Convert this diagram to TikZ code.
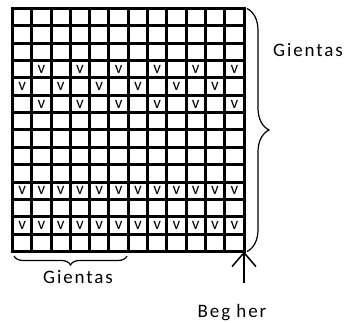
\documentclass[tikz,border=0pt]{standalone}
\usepackage{fontspec}
\setmainfont{Carlito}
\newfontfamily\spacedfont[LetterSpace=10]{Carlito}
\usetikzlibrary{arrows.meta,decorations.pathreplacing}
\begin{document}
\begin{tikzpicture}[x=1pt,y=1pt,
  gridline/.style={line width=3pt},
  stitch/.style={inner sep=0pt,font=\fontsize{17}{17}\selectfont},
  caption/.style={inner sep=1pt,font=\spacedfont\fontsize{19}{19}\selectfont},
  bracket/.style={decorate,line width=1.2pt}]
\useasboundingbox (0,0) rectangle (350,323);
% grid, 12 columns x 14 rows
\foreach \i in {1,...,11}
  \draw[gridline] ({12.5+\i*19.29},71.5) -- ({12.5+\i*19.29},314.5);
\foreach \j in {1,...,13}
  \draw[gridline] (12.5,{71.5+\j*17.357}) -- (244,{71.5+\j*17.357});
\draw[gridline] (12.5,71.5) rectangle (244,314.5);
% stitches
\foreach \r in {4,6}
  \foreach \c in {2,4,...,12}
    \node[stitch] (v-\r-\c) at ({12.5+(\c-0.5)*19.29},{314.5-(\r-0.5)*17.357}) {v};
\foreach \c in {1,3,...,11}
  \node[stitch] (v-5-\c) at ({12.5+(\c-0.5)*19.29},{314.5-4.5*17.357}) {v};
\foreach \r in {11,13}
  \foreach \c in {1,...,12}
    \node[stitch] (v-\r-\c) at ({12.5+(\c-0.5)*19.29},{314.5-(\r-0.5)*17.357}) {v};
% braces and labels
\coordinate (corner) at (244,71.5);
\coordinate (tail) at (244,40);
\draw[bracket,decoration={brace,amplitude=22pt}] (247,314.5) -- (247,71.5);
\draw[bracket,decoration={brace,amplitude=9pt}] (127,67) -- (14,67);
\node[caption] (side) at (308,273) {Gientas};
\node[caption] (under) at (78,46) {Gientas};
\node[caption] (start) at (232,10) {Beg her};
\draw[-{Straight Barb[length=14pt,width=24pt]},line width=1.5pt] (tail) -- (corner);
\end{tikzpicture}
\end{document}
